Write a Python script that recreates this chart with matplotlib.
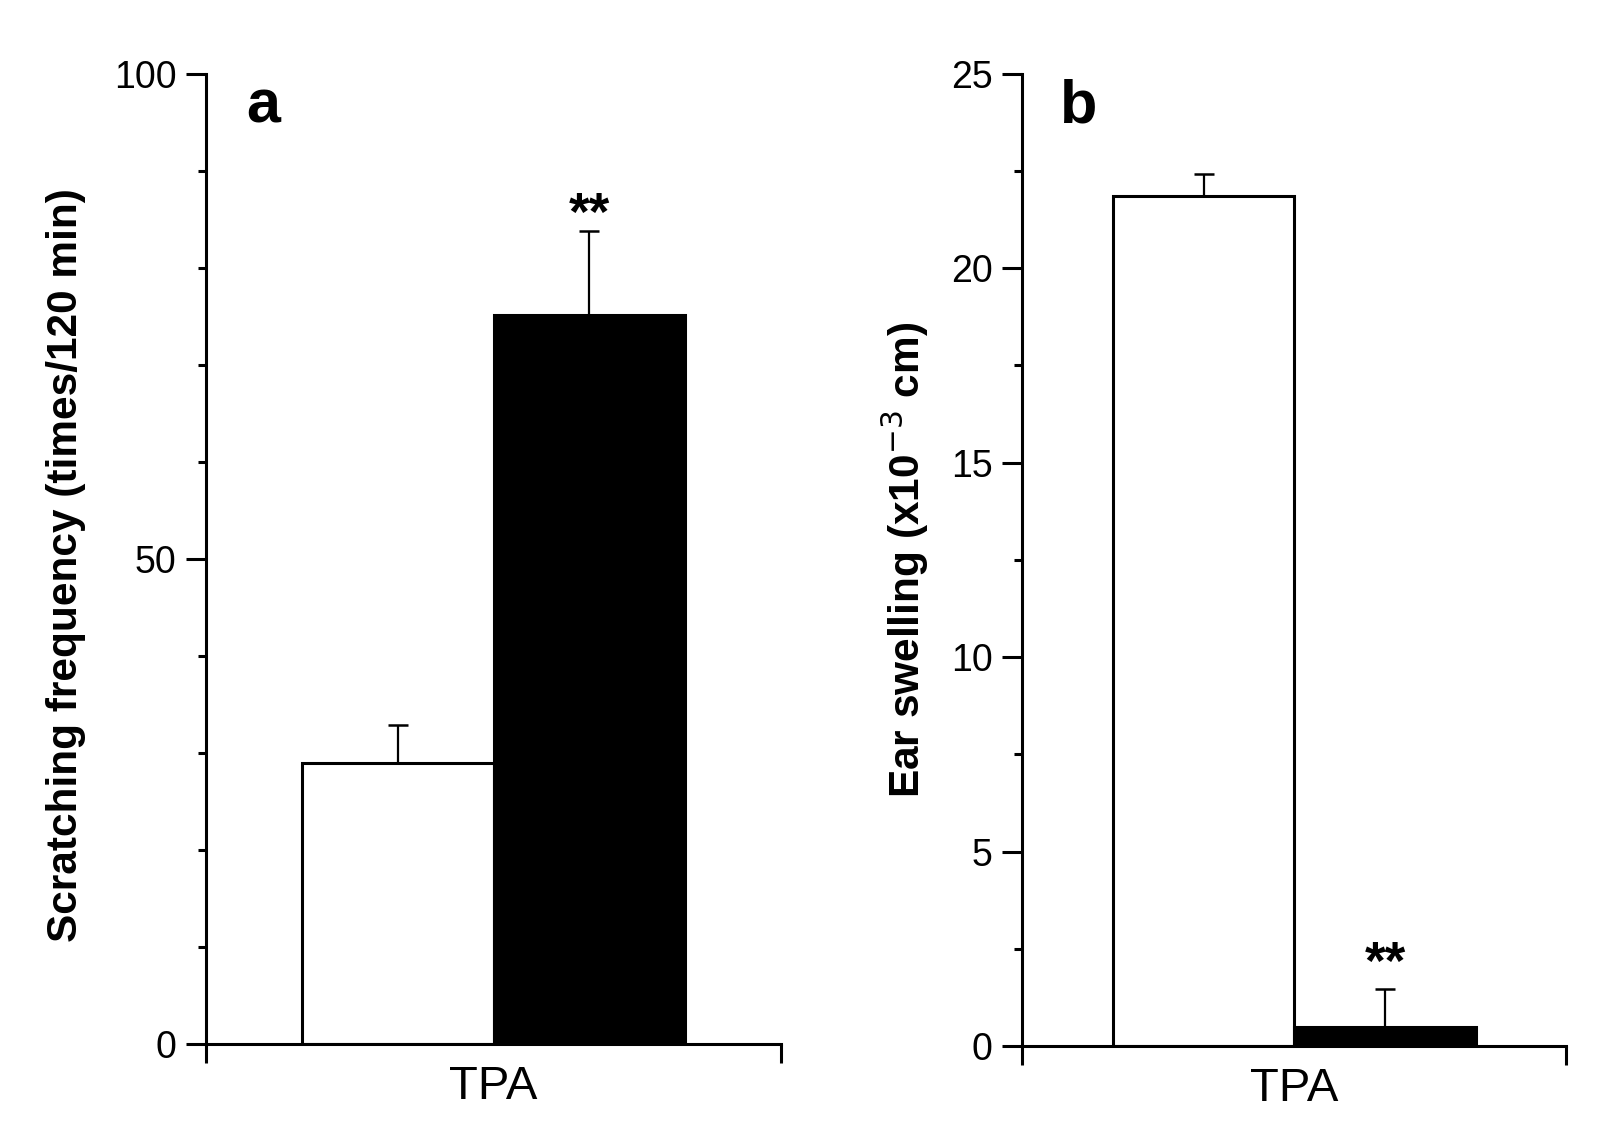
import matplotlib.pyplot as plt
from matplotlib.ticker import MultipleLocator

plt.rcParams["font.family"] = ["Liberation Sans", "DejaVu Sans"]

GROUP = "TPA"
BAR_COLORS = ["white", "black"]

SCRATCH_MEAN = [29.0, 75.1]
SCRATCH_ERR = [3.9, 8.7]
SCRATCH_STARS = ["", "**"]

SWELL_MEAN = [21.85, 0.5]
SWELL_ERR = [0.58, 0.97]
SWELL_STARS = ["", "**"]

LW = 2.2


def draw_panel(ax, means, errs, stars, ymax, major, minor, ylabel, letter, star_off):
    x = [0, 1]
    ax.bar(x, means, width=1.0, color=BAR_COLORS, edgecolor="black",
           linewidth=LW, zorder=2)
    ax.errorbar(x, means, yerr=[[0, 0], errs], fmt="none", ecolor="black",
                elinewidth=1.6, capsize=7.5, capthick=1.8, zorder=3)
    for xi, m, e, s in zip(x, means, errs, stars):
        if s:
            ax.annotate(s, (xi, m + e), xytext=(0, star_off),
                        textcoords="offset points", ha="center", va="center",
                        fontsize=38, fontweight="bold")

    ax.set_xlim(-1, 2)
    ax.set_ylim(0, ymax)
    ax.yaxis.set_major_locator(MultipleLocator(major))
    ax.yaxis.set_minor_locator(MultipleLocator(minor))
    ax.set_xticks([0.5])
    ax.set_xticklabels([GROUP], fontsize=34)
    ax.set_xticks([-1, 2], minor=True)
    ax.tick_params(axis="x", which="major", length=0, pad=15)
    ax.tick_params(axis="x", which="minor", length=14, width=LW)
    ax.tick_params(axis="y", which="major", length=14.4, width=LW,
                   labelsize=27, pad=7)
    ax.tick_params(axis="y", which="minor", length=6, width=LW)

    for side in ("top", "right"):
        ax.spines[side].set_visible(False)
    for side in ("left", "bottom"):
        ax.spines[side].set_linewidth(LW)

    ax.set_ylabel(ylabel, fontsize=30.5, fontweight="bold")
    ax.text(0.07, 0.995, letter, transform=ax.transAxes, ha="left", va="top",
            fontsize=44, fontweight="bold")


def main():
    fig = plt.figure(figsize=(16, 11.23), dpi=100)
    ax_a = fig.add_axes([0.129, 0.0703, 0.359, 0.8642])
    ax_b = fig.add_axes([0.639, 0.0685, 0.340, 0.866])

    draw_panel(ax_a, SCRATCH_MEAN, SCRATCH_ERR, SCRATCH_STARS, 100, 50, 10,
               "Scratching frequency (times/120 min)", "a", 11)
    draw_panel(ax_b, SWELL_MEAN, SWELL_ERR, SWELL_STARS, 25, 5, 2.5,
               "Ear swelling (x10$^{-3}$ cm)", "b", 17)

    ax_a.yaxis.set_label_coords(-0.21, 0.494)
    ax_b.yaxis.set_label_coords(-0.168, 0.5)

    fig.savefig("out.png", dpi=100)


if __name__ == "__main__":
    main()
